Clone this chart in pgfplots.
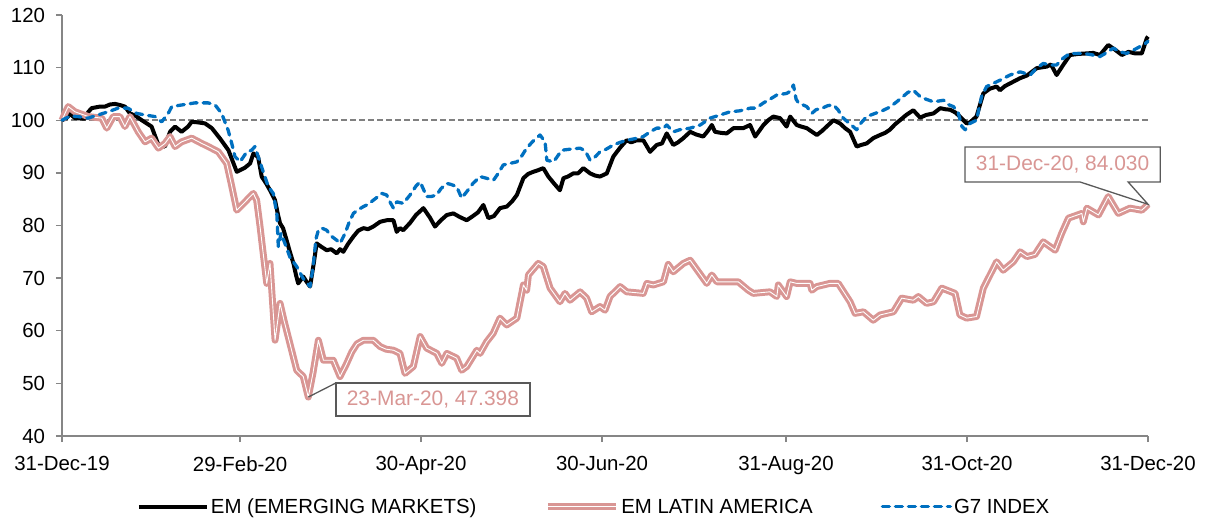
\documentclass[border=0pt]{standalone}
\usepackage{fontspec}
\setmainfont{Liberation Sans}
\usepackage{pgfplots}
\pgfplotsset{compat=1.18}
\definecolor{latam}{RGB}{217,150,148}
\definecolor{gseven}{RGB}{0,112,192}
\definecolor{axisgray}{RGB}{134,134,134}
\definecolor{refgray}{RGB}{128,128,128}
\definecolor{annotgray}{RGB}{89,89,89}
\begin{document}
\begin{tikzpicture}
\begin{axis}[
  scale only axis, width=1086bp, height=421bp,
  xmin=0, xmax=366, ymin=40, ymax=120,
  axis x line*=bottom, axis y line*=left,
  axis line style={draw=axisgray, line width=1.3bp, -},
  xtick={0,60,121,182,244,305,366},
  xticklabels={31-Dec-19,29-Feb-20,30-Apr-20,30-Jun-20,31-Aug-20,31-Oct-20,31-Dec-20},
  ytick={40,50,...,120},
  tick align=outside, major tick length=6bp,
  tick style={draw=axisgray, line width=1.3bp},
  ticklabel style={font=\fontsize{20.5}{23}\selectfont, text=black},
  xticklabel style={yshift=-11bp},
  yticklabel style={xshift=-7.5bp},
  /pgf/number format/assume math mode=true,
  clip=false,
  legend columns=3,
  legend cell align=left,
  legend style={at={(0.49,-0.168)}, anchor=center, draw=none, fill=none,
    font=\fontsize{20.5}{23}\selectfont,
    /tikz/every even column/.append style={column sep=66bp}},
  legend image code/.code={\draw[#1] (0bp,0bp) -- (68bp,0bp);},
]
\addplot[refgray, line width=1.8bp, dash pattern=on 6bp off 3bp, forget plot] coordinates {(0,100) (366,100)};

\addplot[black, line width=4bp, line join=round] coordinates {
(0,100) (1.7,100.5) (2.7,101.2) (4.4,100.4) (7.8,100.3) (8.9,101.6) (10.0,102.3) (12.8,102.6) (14.5,102.6) (16.2,103.0) (17.9,103.1) (19.5,102.9) (21.2,102.6) (22.9,101.3) (24.9,100.8) (26.9,100.0) (30.2,98.8) (32.5,95.3) (34.7,95.0) (36.4,97.8) (38.1,98.8) (40.3,97.8) (42.5,98.8) (43.7,99.7) (45.8,99.6) (48.2,99.4) (50.5,98.5) (53.3,96.5) (56.1,94.3) (58.9,90.2) (61.7,91.0) (63.4,91.8) (64.5,93.7) (66.1,93.0) (67.3,89.3) (68.8,88.0) (70.1,86.7) (71.8,84.8) (72.8,82.0) (73.5,80.4) (74.5,79.5) (75.7,77.2) (76.8,75.0) (78.0,72.8) (78.9,70.5) (79.6,69.0) (81.3,70.3) (82.2,69.5) (83.6,68.4) (84.9,73.0) (85.8,76.6) (87.3,76.0) (89.2,75.3) (90.7,75.5) (92.6,74.7) (93.7,75.5) (94.8,75.0) (96.4,76.5) (98.2,77.9) (99.8,79.0) (101.6,79.5) (103.1,79.3) (104.9,79.8) (107.2,80.7) (109.4,81.0) (111.7,81.0) (112.8,78.8) (113.9,79.5) (115.0,79.1) (117.3,80.5) (119.3,82.0) (121.8,83.3) (124.0,81.5) (125.7,79.8) (127.7,81.0) (129.7,82.0) (131.9,82.3) (134.1,81.6) (136.4,81.0) (138.5,81.8) (140.2,82.5) (142.0,83.9) (143.7,81.4) (145.6,81.8) (147.6,83.3) (149.9,83.6) (151.7,84.6) (153.3,85.8) (155.5,89.0) (157.1,89.8) (158.8,90.2) (160.4,90.5) (162.2,90.9) (163.9,89.3) (165.8,88.0) (167.8,86.7) (169.0,89.0) (170.5,89.3) (172.3,89.9) (173.9,89.9) (175.7,90.9) (178.0,89.9) (179.6,89.5) (181.3,89.3) (183.6,89.9) (185.8,93.1) (188.1,94.8) (190.3,96.2) (191.8,95.8) (193.7,96.2) (195.9,96.2) (198.2,94.0) (200.4,95.3) (202.2,95.6) (203.8,97.5) (206.0,95.3) (207.6,95.8) (209.4,96.6) (211.7,97.8) (213.7,97.3) (216.1,96.9) (217.7,98.0) (219.0,99.1) (220.1,97.8) (222.1,97.6) (224.0,97.5) (226.3,98.5) (229.6,98.5) (231.9,99.1) (233.6,96.9) (236.4,99.1) (238.0,100.0) (239.7,100.7) (242.0,100.4) (244.2,98.8) (245.4,100.7) (247.6,99.1) (249.1,98.8) (251.0,98.5) (252.8,97.8) (254.4,97.2) (256.2,98.0) (257.7,98.8) (260.0,100.0) (262.2,99.4) (263.9,98.5) (265.6,97.8) (267.8,95.0) (269.3,95.3) (271.2,95.6) (273.4,96.6) (275.7,97.2) (277.4,97.6) (279.0,98.2) (280.7,99.2) (282.4,100.0) (284.5,101.0) (286.9,101.9) (289.2,100.5) (291.2,101.0) (293.7,101.3) (296.0,102.3) (297.6,102.1) (299.3,102.0) (301.0,101.5) (302.6,100.7) (304.9,99.4) (306.0,99.6) (308.2,100.7) (310.5,105.1) (312.7,106.0) (315.0,106.4) (316.1,105.7) (317.8,106.5) (319.5,107.0) (321.2,107.5) (322.9,108.0) (325.2,108.5) (328.5,109.9) (331.9,110.2) (333.3,110.6) (335.2,108.6) (337.4,110.5) (339.7,112.4) (342.4,112.6) (345.4,112.7) (347.5,112.8) (349.8,112.4) (352.6,114.3) (354.9,113.4) (357.2,112.4) (359.4,113.0) (361.7,112.7) (363.9,112.7) (365.6,115.6) (366,115.9)
};
\addlegendentry{EM (EMERGING MARKETS)}

\addplot[latam, line width=3bp, double=white, double distance=0.9bp, line join=round] coordinates {
(0,100) (1.0,101.3) (2.1,102.6) (4.4,101.6) (8.9,100.7) (13.4,100.4) (15.1,98.5) (17.3,100.7) (19.5,100.7) (21.2,98.8) (22.9,100.7) (25.7,97.8) (28.0,95.9) (30.2,96.6) (32.5,94.7) (34.7,95.6) (36.4,96.9) (38.1,95.0) (40.3,95.9) (43.7,96.6) (47.1,95.6) (49.3,95.0) (52.7,94.0) (55.5,91.8) (57.0,88.0) (58.9,82.9) (61.7,84.5) (64.5,86.1) (65.6,84.8) (66.7,80.0) (69.0,69.0) (70.1,72.8) (71.8,58.2) (73.5,65.2) (74.8,62.0) (76.8,57.6) (79.1,52.5) (81.3,51.3) (83.0,47.398) (84.6,52.0) (86.4,58.2) (88.1,54.4) (91.4,54.4) (93.7,51.3) (95.7,53.5) (97.7,56.0) (99.4,57.5) (101.6,58.2) (104.9,58.2) (107.2,57.0) (109.2,56.5) (111.7,56.3) (113.9,55.7) (115.6,51.9) (118.4,53.2) (120.7,58.9) (122.9,56.7) (126.3,55.7) (128.0,53.8) (129.7,55.7) (133.0,54.8) (134.7,52.5) (136.4,53.2) (139.8,56.3) (140.9,55.7) (143.1,57.9) (145.3,59.5) (147.6,62.4) (149.9,61.1) (153.3,62.4) (155.5,68.7) (156.6,67.7) (157.2,70.6) (160.5,72.8) (162.2,72.2) (164.5,68.1) (167.8,65.5) (169.5,67.1) (171.2,65.8) (174.6,67.4) (176.8,66.2) (178.5,63.6) (181.3,64.6) (183.0,63.9) (184.7,66.5) (188.1,68.4) (190.3,67.4) (195.9,67.1) (197.1,69.0) (199.3,68.7) (202.7,69.3) (204.3,72.6) (206.0,71.2) (209.4,72.8) (211.7,73.4) (214.5,71.2) (217.3,69.0) (219.0,70.6) (220.7,69.3) (224.0,69.3) (227.9,69.3) (231.3,67.7) (233.0,67.1) (238.6,67.4) (240.9,66.5) (241.4,68.7) (244.2,66.5) (245.4,69.3) (247.6,69.0) (252.1,69.0) (252.7,67.7) (254.4,68.4) (258.8,69.0) (261.6,69.0) (265.6,65.5) (267.3,63.3) (270.1,63.6) (273.4,62.0) (275.7,63.0) (280.2,63.6) (283.0,66.2) (286.9,65.8) (288.6,66.5) (291.4,65.2) (293.7,65.5) (296.5,68.1) (301.0,67.1) (302.6,63.0) (304.9,62.4) (308.2,62.7) (310.5,68.1) (315.0,73.1) (317.2,71.5) (320.6,73.1) (322.9,75.0) (325.2,74.1) (327.9,74.5) (330.7,76.9) (334.7,75.3) (336.9,78.5) (339.2,81.4) (343.7,82.3) (344.2,80.7) (345.4,83.3) (349.3,82.0) (352.6,85.5) (356.0,82.3) (359.9,83.3) (363.9,82.9) (366,84.03)
};
\addlegendentry{EM LATIN AMERICA}

\addplot[gseven, line width=3.3bp, dash pattern=on 7bp off 6bp, line cap=round, line join=round] coordinates {
(0,100) (2.7,100.8) (5.4,100.7) (8.8,100.4) (12.1,101.0) (15.5,101.6) (18.9,102.3) (22.2,102.3) (25.2,101.3) (28.0,101.0) (31.3,100.7) (33.6,99.7) (35.8,101.3) (37.0,102.6) (40.3,102.9) (44.8,103.3) (49.3,103.3) (51.6,102.9) (53.8,101.3) (56.0,98.1) (57.2,95.6) (58.3,93.1) (60.0,92.1) (62.3,94.0) (63.9,94.3) (65.0,95.0) (66.7,92.1) (69.5,87.4) (71.2,86.1) (72.4,82.3) (72.9,76.0) (73.8,78.5) (75.2,76.5) (76.8,74.0) (79.1,72.2) (81.2,70.0) (83.6,68.4) (84.6,72.0) (85.6,77.5) (86.4,79.1) (87.6,79.5) (89.2,79.1) (90.7,78.0) (92.6,77.2) (93.7,76.6) (95.4,78.5) (96.7,80.5) (98.2,82.3) (99.8,83.0) (101.6,83.6) (103.1,84.0) (104.9,84.8) (106.5,85.5) (107.8,86.1) (109.4,85.8) (110.5,84.5) (111.7,83.3) (112.8,84.5) (115.0,84.2) (117.3,85.8) (119.3,87.5) (120.7,88.3) (122.9,85.5) (124.4,85.5) (126.3,85.8) (127.7,87.0) (129.7,88.0) (131.1,87.8) (133.0,87.4) (134.7,85.2) (136.5,86.5) (138.5,88.0) (140.9,89.3) (142.9,89.0) (145.4,88.6) (146.9,89.8) (148.7,91.5) (151.0,91.8) (153.3,92.1) (154.7,93.0) (156.6,94.7) (158.7,96.0) (161.1,97.2) (162.8,95.9) (163.4,92.4) (165.6,92.1) (166.8,93.0) (168.4,94.3) (171.2,94.5) (174.6,94.7) (176.3,94.2) (178.0,92.4) (179.6,93.0) (181.3,94.0) (183.4,94.5) (185.8,95.3) (188.1,95.8) (190.3,96.2) (193.1,96.5) (195.9,96.9) (198.2,97.8) (200.4,98.5) (202.7,98.5) (203.8,99.1) (206.0,97.8) (208.2,98.2) (211.7,98.5) (215.1,99.1) (218.4,100.4) (221.8,101.0) (225.1,101.6) (228.5,101.8) (231.9,102.3) (233.9,102.3) (236.4,103.3) (238.6,104.0) (240.9,104.8) (244.2,105.1) (245.4,105.5) (246.5,106.7) (247.4,104.0) (248.2,103.3) (251.0,102.6) (252.7,101.3) (254.1,102.0) (256.2,102.3) (258.2,102.8) (260.0,102.9) (261.5,102.0) (263.3,100.4) (265.6,99.3) (267.8,98.2) (269.3,99.5) (271.2,100.7) (274.0,101.3) (276.8,101.9) (279.0,102.5) (281.3,103.5) (283.4,104.5) (285.1,105.3) (286.9,105.7) (289.2,104.5) (291.2,104.0) (293.7,103.5) (297.1,103.8) (298.6,103.0) (300.4,102.6) (302.0,101.5) (303.3,98.8) (304.4,98.2) (306.0,99.4) (308.2,100.0) (309.9,104.5) (311.6,106.4) (313.8,107.0) (316.1,107.6) (319.5,108.6) (322.9,109.2) (326.3,108.6) (328.3,109.8) (330.7,110.8) (333.0,110.5) (335.2,110.5) (337.4,111.8) (339.7,112.7) (344.2,112.7) (346.5,112.5) (349.8,112.1) (351.9,112.8) (354.3,113.7) (356.6,113.0) (358.8,112.7) (361.0,113.3) (363.3,114.0) (364.9,114.5) (366,115.0)
};
\addlegendentry{G7 INDEX}

% callout 1
\draw[annotgray, line width=1.3bp] (axis cs:83,47.398) -- (axis cs:92.3,50.07);
\node[draw=annotgray, line width=1.3bp, fill=white, text=latam, inner sep=0pt,
  minimum width=194bp, minimum height=33bp, font=\fontsize{21}{24}\selectfont]
  at (axis cs:125.0,46.93) {23-Mar-20, 47.398};
% callout 2
\draw[annotgray, line width=1.3bp, fill=white, line join=miter]
  (axis cs:304.3,94.92) -- (axis cs:370.1,94.92) -- (axis cs:370.1,88.27) -- (axis cs:359.3,88.27)
  -- (axis cs:366,84.03) -- (axis cs:343.1,88.27) -- (axis cs:304.3,88.27) -- cycle;
\node[text=latam, inner sep=0pt, font=\fontsize{21}{24}\selectfont]
  at (axis cs:337.2,91.6) {31-Dec-20, 84.030};
\end{axis}
\pgfresetboundingbox
\path (current axis.south west) ++(-62bp,-82bp) rectangle ++(1209bp,518bp);
\end{tikzpicture}
\end{document}
